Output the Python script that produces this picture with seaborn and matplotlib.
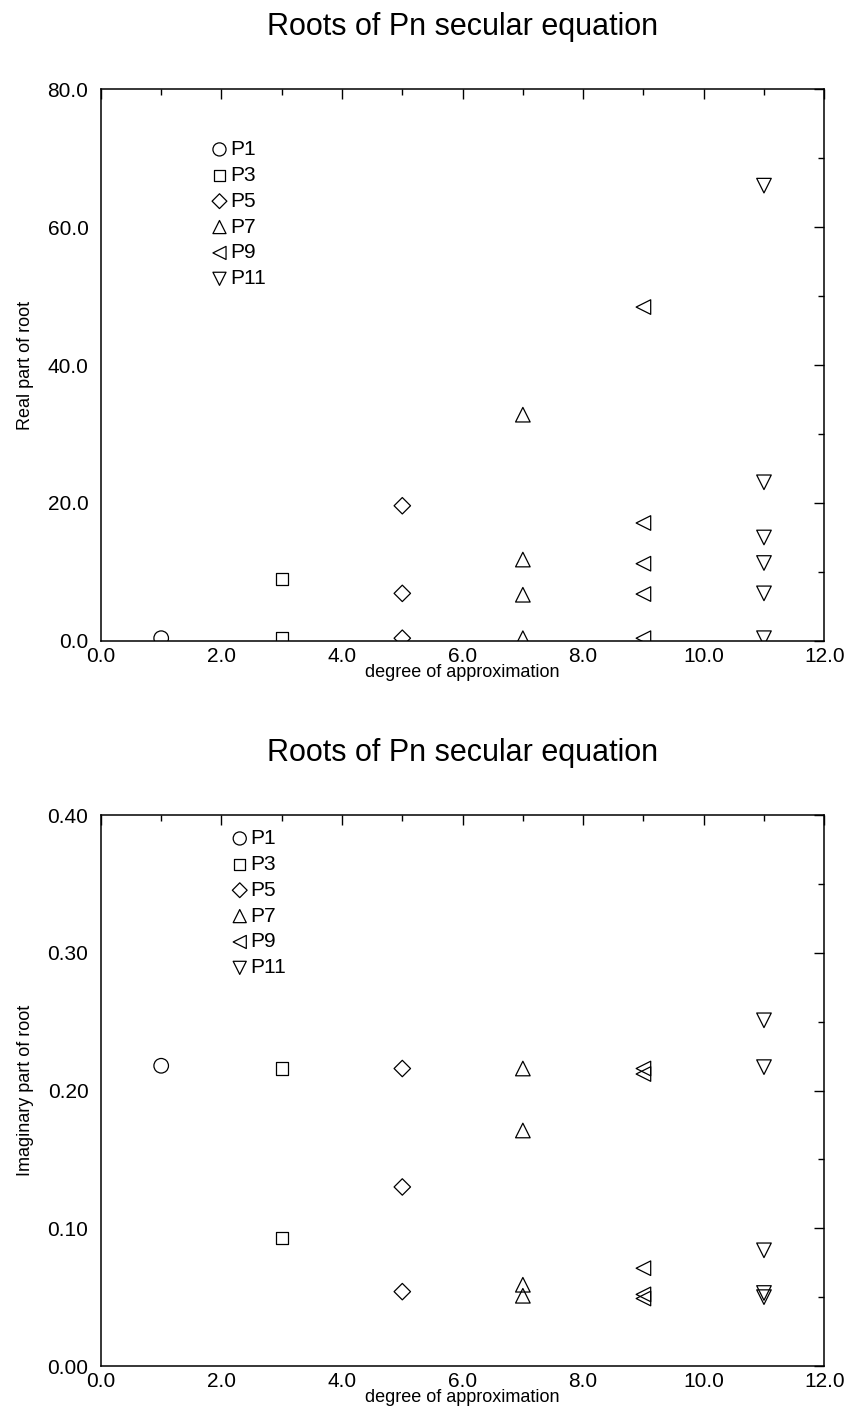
import matplotlib
matplotlib.use("Agg")
import matplotlib.pyplot as plt
import numpy as np
import pandas as pd
import seaborn as sns
from matplotlib.ticker import MultipleLocator, FormatStrFormatter

sns.set_style("white")
plt.rcParams['font.family'] = ['Liberation Sans', 'DejaVu Sans']
plt.rcParams['text.color'] = 'black'
plt.rcParams['axes.labelcolor'] = 'black'

series = ["P1", "P3", "P5", "P7", "P9", "P11"]
marks = {"P1": "o", "P3": "s", "P5": "D", "P7": "^", "P9": "<", "P11": "v"}
degree = {"P1": 1, "P3": 3, "P5": 5, "P7": 7, "P9": 9, "P11": 11}

# real parts of the roots
real_P1 = [0.4]
real_P3 = [9.0, 0.4]
real_P5 = [19.6, 6.9, 0.4]
real_P7 = [32.8, 11.8, 6.7, 0.4]
real_P9 = [48.4, 17.1, 11.2, 6.8, 0.4]
real_P11 = [66.0, 23.0, 15.0, 11.3, 6.9, 0.4]

# imaginary parts of the roots
imag_P1 = [0.218]
imag_P3 = [0.216, 0.093]
imag_P5 = [0.216, 0.130, 0.054]
imag_P7 = [0.216, 0.171, 0.059, 0.051]
imag_P9 = [0.216, 0.212, 0.071, 0.052, 0.049]
imag_P11 = [0.251, 0.217, 0.084, 0.053, 0.050]

real = {"P1": real_P1, "P3": real_P3, "P5": real_P5, "P7": real_P7, "P9": real_P9, "P11": real_P11}
imag = {"P1": imag_P1, "P3": imag_P3, "P5": imag_P5, "P7": imag_P7, "P9": imag_P9, "P11": imag_P11}

msize = {"P1": 110, "P3": 80, "P5": 70, "P7": 110, "P9": 110, "P11": 110}


def panel(ax, values, ylabel, ymax, ymajor, yfmt, leg_anchor):
    for s in series:
        d = pd.DataFrame({"x": [degree[s]] * len(values[s]), "y": values[s]})
        sns.scatterplot(data=d, x="x", y="y", marker=marks[s], s=msize[s],
                        facecolors="none", edgecolor="black", linewidth=0.9,
                        label=s, ax=ax)
    ax.set_xlim(0, 12)
    ax.set_ylim(0, ymax)
    ax.xaxis.set_major_locator(MultipleLocator(2))
    ax.xaxis.set_minor_locator(MultipleLocator(1))
    ax.yaxis.set_major_locator(MultipleLocator(ymajor))
    ax.yaxis.set_minor_locator(MultipleLocator(ymajor / 2))
    ax.xaxis.set_major_formatter(FormatStrFormatter("%.1f"))
    ax.yaxis.set_major_formatter(FormatStrFormatter(yfmt))
    ax.tick_params(which="both", direction="in", top=True, right=True,
                   labelsize=15, width=1, colors="black")
    ax.tick_params(which="major", length=7)
    ax.tick_params(axis="y", which="major", pad=9)
    ax.tick_params(axis="x", which="major", pad=4)
    ax.tick_params(which="minor", length=4)
    for sp in ax.spines.values():
        sp.set_color("black")
        sp.set_linewidth(1.1)
    ax.set_xlabel("degree of approximation", fontsize=13, labelpad=-1)
    ax.set_ylabel(ylabel, fontsize=13, labelpad=10)
    ax.set_title("Roots of Pn secular equation", fontsize=22, pad=39)
    ax.legend(loc="upper left", bbox_to_anchor=leg_anchor, frameon=False,
              fontsize=15, handletextpad=0.0, labelspacing=0.33,
              borderaxespad=0, handlelength=1.0, markerscale=0.9)


fig = plt.figure(figsize=(8.48, 14.25), dpi=100)
ax1 = fig.add_axes([0.119, 0.5502, 0.853, 0.3873])
ax2 = fig.add_axes([0.119, 0.0414, 0.853, 0.3866])

panel(ax1, real, "Real part of root", 80, 20, "%.1f", (0.138, 0.923))
panel(ax2, imag, "Imaginary part of root", 0.40, 0.10, "%.2f", (0.166, 0.99))

fig.savefig("out.png", dpi=100)
